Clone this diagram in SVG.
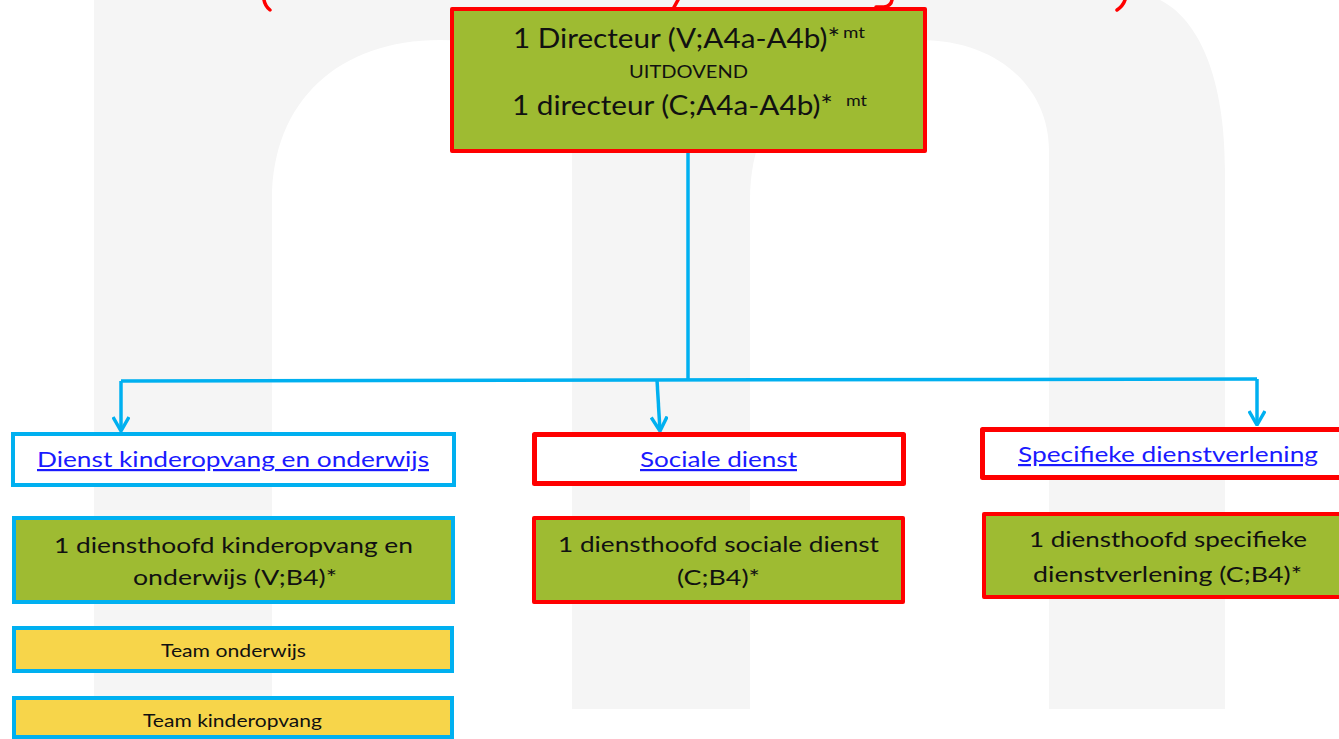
<svg xmlns="http://www.w3.org/2000/svg" width="1339" height="739" viewBox="0 0 1339 739">
  <style>
    .txt { font-family: Lato, "Liberation Sans", sans-serif; fill: #111; }
    .link { font-family: Lato, "Liberation Sans", sans-serif; fill: #1a1aff; text-decoration: underline; }
    .green { fill: #9ebb32; }
    .white { fill: #ffffff; }
    .yellow { fill: #f7d54a; }
    .bred { stroke: #ff0000; stroke-linejoin: round; }
    .bcyan { stroke: #00b0f0; }
    .conn { stroke: #00b0f0; fill: none; stroke-width: 3.5; }
    .frag { stroke: #ff0000; fill: none; stroke-width: 3.5; stroke-linecap: round; }
  </style>
  <defs>
    <marker id="arrow" viewBox="0 0 16 18" refX="15" refY="9" markerWidth="16" markerHeight="18" markerUnits="userSpaceOnUse" orient="auto">
      <path d="M1,1 L15,9 L1,17" fill="none" stroke="#00b0f0" stroke-width="3.5" stroke-linejoin="round"/>
    </marker>
  </defs>

  <rect x="0" y="0" width="1339" height="739" fill="#ffffff"/>

  <!-- watermark letter shape -->
  <g id="watermark">
    <path fill="#f5f5f5" fill-rule="evenodd" d="M94,0 L1160,0 C1200,20 1225,80 1225,170 L1225,709 L94,709 Z
      M272,709 L272,200 C272,100 340,40 440,40 C520,40 572,90 572,150 L572,709 Z
      M750,709 L750,200 C750,100 820,40 920,40 C1000,40 1049,90 1049,150 L1049,709 Z"/>
  </g>

  <!-- cut-off red title strokes at top edge -->
  <g id="title-fragments">
    <path class="frag" d="M264,0 Q265,6 270,10"/>
    <path class="frag" d="M678,0 L673,9"/>
    <path class="frag" d="M892,0 Q891,6 884,7 L876,7"/>
    <path class="frag" d="M1125,0 Q1123,6 1117,10"/>
  </g>

  <g id="connectors">
    <path class="conn" stroke-width="3" d="M688,152 L688,381"/>
    <path class="conn" d="M121,381 L1257,379"/>
    <path class="conn" d="M121,381 L121,431" marker-end="url(#arrow)"/>
    <path class="conn" d="M657,380 L660,431" marker-end="url(#arrow)"/>
    <path class="conn" d="M1257,379 L1257,425" marker-end="url(#arrow)"/>
  </g>

  <g id="node-directeur">
    <rect x="452" y="9" width="473" height="142" class="green bred" stroke-width="4"/>
    <text class="txt" x="513" y="48" font-size="26" textLength="327" lengthAdjust="spacingAndGlyphs">1 Directeur (V;A4a-A4b)*</text>
    <text class="txt" x="843" y="38" font-size="15" textLength="22" lengthAdjust="spacingAndGlyphs">mt</text>
    <text class="txt" x="629" y="78" font-size="18" textLength="119" lengthAdjust="spacingAndGlyphs">UITDOVEND</text>
    <text class="txt" x="512" y="115" font-size="26" textLength="321" lengthAdjust="spacingAndGlyphs">1 directeur (C;A4a-A4b)*</text>
    <text class="txt" x="846" y="106" font-size="15" textLength="21" lengthAdjust="spacingAndGlyphs">mt</text>
  </g>

  <g id="node-dienst-kinderopvang">
    <rect x="13" y="434" width="441" height="51" class="white bcyan" stroke-width="4"/>
    <text class="link" x="37" y="467" font-size="22" textLength="392" lengthAdjust="spacingAndGlyphs">Dienst kinderopvang en onderwijs</text>
  </g>

  <g id="node-diensthoofd-kinderopvang">
    <rect x="14" y="518" width="439" height="84" class="green bcyan" stroke-width="4"/>
    <text class="txt" x="54" y="553" font-size="22" textLength="359" lengthAdjust="spacingAndGlyphs">1 diensthoofd kinderopvang en</text>
    <text class="txt" x="133" y="585" font-size="22" textLength="204" lengthAdjust="spacingAndGlyphs">onderwijs (V;B4)*</text>
  </g>

  <g id="node-team-onderwijs">
    <rect x="14" y="628" width="438" height="43" class="yellow bcyan" stroke-width="4"/>
    <text class="txt" x="161" y="657" font-size="18" textLength="145" lengthAdjust="spacingAndGlyphs">Team onderwijs</text>
  </g>

  <g id="node-team-kinderopvang">
    <rect x="14" y="698" width="438" height="39" class="yellow bcyan" stroke-width="4"/>
    <text class="txt" x="143" y="727" font-size="18" textLength="179" lengthAdjust="spacingAndGlyphs">Team kinderopvang</text>
  </g>

  <g id="node-sociale-dienst">
    <rect x="534.5" y="434.5" width="369" height="49" class="white bred" stroke-width="5"/>
    <text class="link" x="640" y="467" font-size="22" textLength="157" lengthAdjust="spacingAndGlyphs">Sociale dienst</text>
  </g>

  <g id="node-diensthoofd-sociale">
    <rect x="534" y="518" width="369" height="84" class="green bred" stroke-width="4"/>
    <text class="txt" x="558" y="552" font-size="22" textLength="321" lengthAdjust="spacingAndGlyphs">1 diensthoofd sociale dienst</text>
    <text class="txt" x="677" y="585" font-size="22" textLength="83" lengthAdjust="spacingAndGlyphs">(C;B4)*</text>
  </g>

  <g id="node-specifieke">
    <rect x="982.5" y="429.5" width="380" height="48" class="white bred" stroke-width="5"/>
    <text class="link" x="1018" y="462" font-size="22" textLength="300" lengthAdjust="spacingAndGlyphs">Specifieke dienstverlening</text>
  </g>

  <g id="node-diensthoofd-specifieke">
    <rect x="984" y="514" width="380" height="83" class="green bred" stroke-width="4"/>
    <text class="txt" x="1029" y="547" font-size="22" textLength="278" lengthAdjust="spacingAndGlyphs">1 diensthoofd specifieke</text>
    <text class="txt" x="1033" y="582" font-size="22" textLength="269" lengthAdjust="spacingAndGlyphs">dienstverlening (C;B4)*</text>
  </g>
</svg>
